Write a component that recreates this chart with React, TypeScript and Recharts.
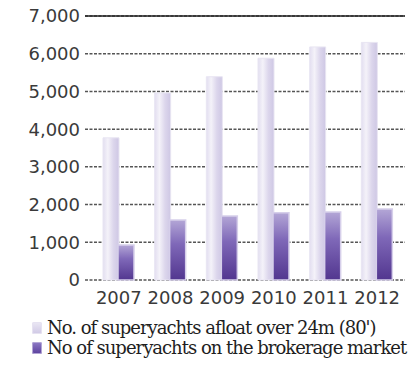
import { BarChart, Bar, XAxis, YAxis, CartesianGrid, ReferenceLine } from 'recharts'

const years = ['2007', '2008', '2009', '2010', '2011', '2012']
const afloat = [3770, 4960, 5390, 5880, 6180, 6300]
const brokerage = [930, 1590, 1700, 1780, 1800, 1880]
const yTicks = [0, 1000, 2000, 3000, 4000, 5000, 6000, 7000]

const afloatName = "No. of superyachts afloat over 24m (80')"
const brokerName = 'No of superyachts on the brokerage market'

const data = years.map((year, i) => ({ year, afloat: afloat[i], brokerage: brokerage[i] }))

const tickStyle = { fontSize: 18, fill: '#3a3a3a', fontFamily: 'DejaVu Sans' }

/* ── legend swatch ───────────────────────────────── */
function Swatch({ dark }: { dark?: boolean }) {
  return (
    <span
      style={{
        display: 'inline-block', width: 10, height: 12, marginRight: 5, borderRadius: 2,
        background: dark
          ? 'linear-gradient(180deg, #8f7cc6 0%, #5a3f9c 100%)'
          : 'linear-gradient(180deg, #ebe8f4 0%, #cfc8e5 100%)',
        boxShadow: dark ? 'inset 0 0 0 1px #b3a6d6' : 'inset 0 0 0 1px #e6e2f1',
      }}
    />
  )
}

export default function App() {
  return (
    <div style={{ position: 'absolute', left: 0, top: 0, width: 416, height: 369, background: '#fff' }}>
      <BarChart
        width={416} height={312} data={data}
        margin={{ top: 16, right: 11, bottom: 2, left: 0 }}
        barGap={-1} barSize={16}
      >
        <defs>
          <linearGradient id="lightBar" x1="0" y1="0" x2="1" y2="0">
            <stop offset="0%" stopColor="#e2def0" />
            <stop offset="30%" stopColor="#f4f2f9" />
            <stop offset="65%" stopColor="#dcd6ec" />
            <stop offset="100%" stopColor="#cec7e4" />
          </linearGradient>
          <linearGradient id="darkBar" x1="0" y1="0" x2="0" y2="1">
            <stop offset="0%" stopColor="#b3a6d6" />
            <stop offset="40%" stopColor="#7f68b8" />
            <stop offset="100%" stopColor="#52368f" />
          </linearGradient>
        </defs>
        <CartesianGrid vertical={false} stroke="#555" strokeWidth={1.5} strokeDasharray="3 1.5" />
        <ReferenceLine y={7000} stroke="#222" strokeWidth={1.5} />
        <XAxis
          dataKey="year" height={30} tickLine={false} axisLine={false}
          tickSize={0} tickMargin={11} tick={tickStyle} interval={0}
          padding={{ left: 8, right: 2 }}
        />
        <YAxis
          width={85} domain={[0, 7000]} ticks={yTicks} tickLine={false} axisLine={false}
          tickSize={3} tickMargin={2} tick={tickStyle}
          tickFormatter={(v: number) => v.toLocaleString('en-US')}
        />
        <Bar dataKey="afloat" name={afloatName} fill="url(#lightBar)" stroke="#e8e5f2" strokeWidth={1} isAnimationActive={false} />
        <Bar dataKey="brokerage" name={brokerName} fill="url(#darkBar)" stroke="#d6cfea" strokeWidth={1.5} isAnimationActive={false} />
      </BarChart>
      <div
        style={{
          position: 'absolute', left: 32, top: 318, fontFamily: 'DejaVu Serif', fontSize: 18,
          letterSpacing: -1.0, color: '#1e1e1e', lineHeight: '20px', whiteSpace: 'nowrap',
        }}
      >
        <div><Swatch />{afloatName}</div>
        <div><Swatch dark />{brokerName}</div>
      </div>
    </div>
  )
}
